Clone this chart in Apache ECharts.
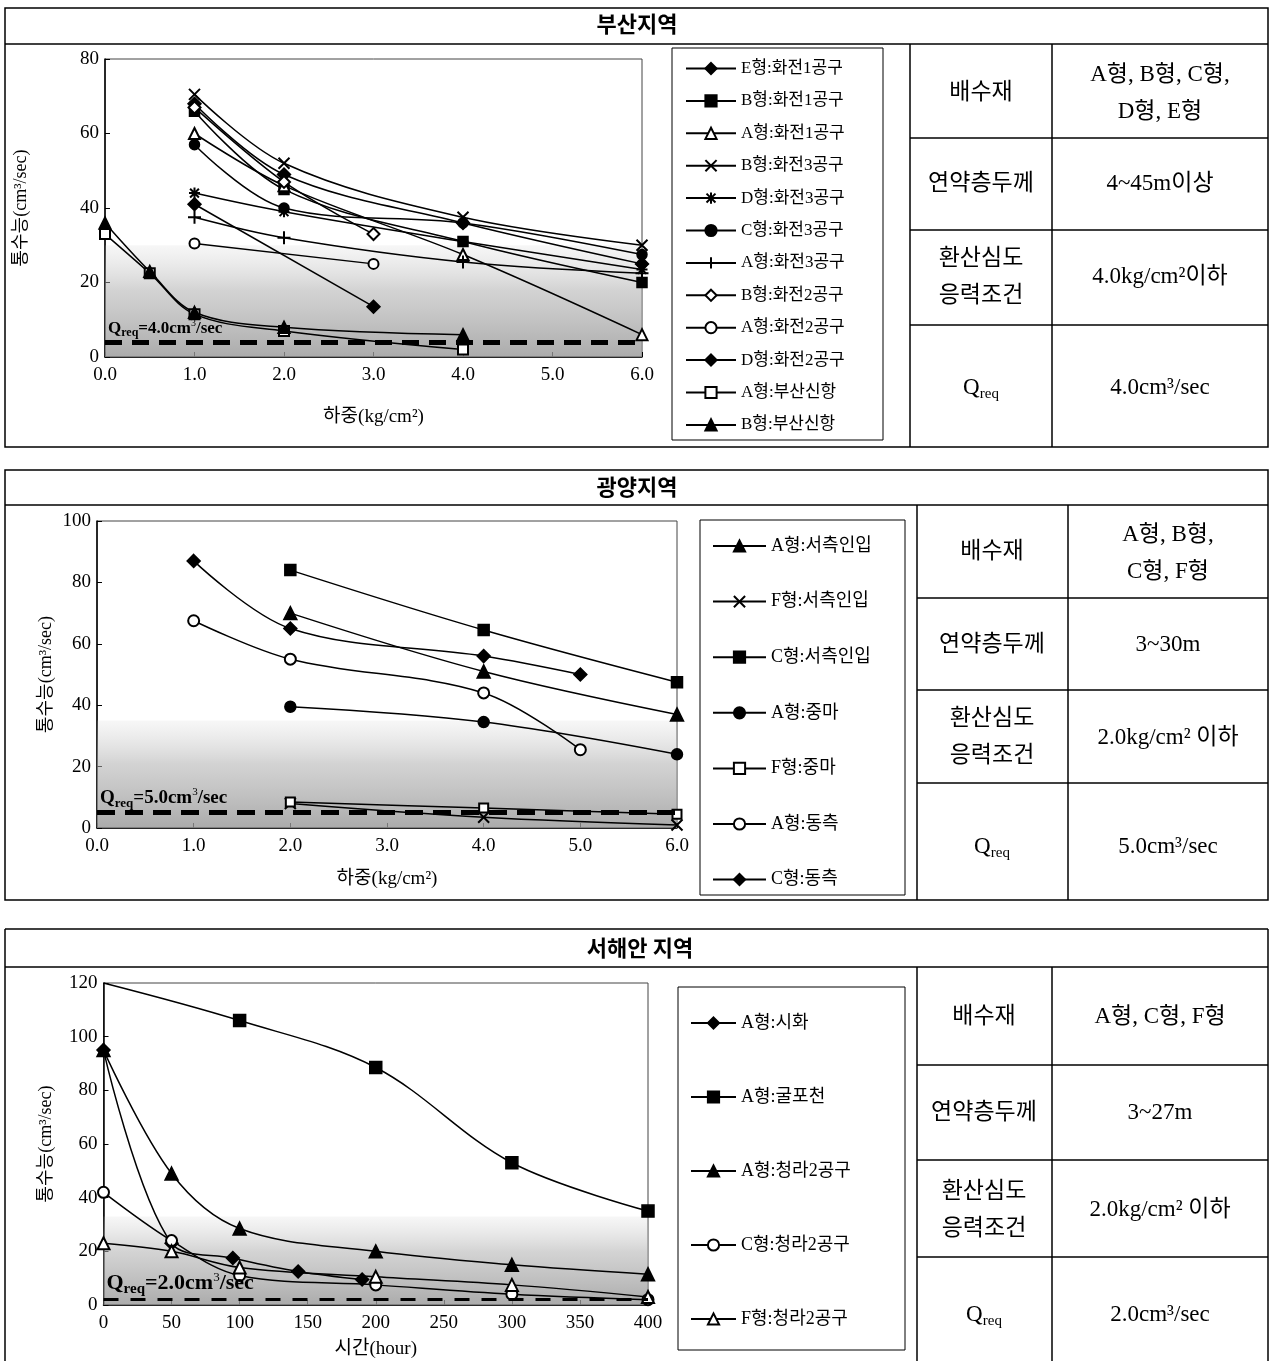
<!DOCTYPE html>
<html><head><meta charset="utf-8">
<script src="https://cdn.jsdelivr.net/npm/echarts@6/dist/echarts.min.js"></script>
<style>html,body{margin:0;padding:0;background:#fff}#c{width:1271px;height:1361px}</style>
</head><body><div id="c"></div><script>
// ===== 부산지역 (x: 하중 kg/cm², y: 통수능 cm³/sec) =====
const busanTicksX = [0, 1, 2, 3, 4, 5, 6];
const busan_E_hwa1 = [[1,68],[2,49],[4,36],[6,25]];
const busan_B_hwa1 = [[1,66],[2,45],[4,31],[6,20]];
const busan_A_hwa1 = [[1,60],[2,46],[4,27.5],[6,6]];
const busan_B_hwa3 = [[1,70.5],[2,52],[4,37.5],[6,30]];
const busan_D_hwa3 = [[1,44],[2,39],[4,31],[6,23.5]];
const busan_C_hwa3 = [[1,57],[2,40],[4,36],[6,27.5]];
const busan_A_hwa3 = [[1,37.5],[2,32],[4,25.5],[6,22.5]];
const busan_B_hwa2 = [[1,67],[2,47],[3,33]];
const busan_A_hwa2 = [[1,30.5],[3,25]];
const busan_D_hwa2 = [[1,41],[3,13.5]];
const busan_A_new  = [[0,33],[0.5,22.5],[1,11.5],[2,7],[4,2]];
const busan_B_new  = [[0,36],[0.5,23],[1,12],[2,8],[4,6]];
const busanQreq = 4.0;

// ===== 광양지역 =====
const gy_A_west = [[2,70],[4,51],[6,37]];
const gy_F_west = [[2,8],[4,3.5],[6,1]];
const gy_C_west = [[2,84],[4,64.5],[6,47.5]];
const gy_A_jm   = [[2,39.5],[4,34.5],[6,24]];
const gy_F_jm   = [[2,8.5],[4,6.5],[6,4.5]];
const gy_A_east = [[1,67.5],[2,55],[4,44],[5,25.5]];
const gy_C_east = [[1,87],[2,65],[4,56],[5,50]];
const gyQreq = 5.0;

// ===== 서해안 지역 (x: 시간 hour) =====
const wc_A_sihwa = [[0,95],[50,23],[95,17.5],[143,12.5],[190,9.5]];
const wc_A_gulpo = [[0,120],[100,106],[200,88.5],[300,53],[400,35]];
const wc_A_cr2   = [[0,95],[50,49],[100,28.5],[200,20],[300,15],[400,11.5]];
const wc_C_cr2   = [[0,42],[50,24],[100,11],[200,7.5],[300,4],[400,2]];
const wc_F_cr2   = [[0,23],[50,20],[100,14],[200,10.5],[300,7.5],[400,3]];
const wcQreq = 2.0;

const FONT = "'Liberation Serif','Noto Sans CJK KR',serif";
const SYM = {
  X: 'path://M0,0L10,10M10,0L0,10',
  PLUS: 'path://M5,0L5,10M0,5L10,5',
  AST: 'path://M1,1L9,9M9,1L1,9M5,0L5,10M0,5L10,5'
};

function S(name, data, symbol, size, gi, smooth) {
  return {
    type: 'line', name: name, data: data, xAxisIndex: gi, yAxisIndex: gi,
    symbol: symbol, symbolSize: size, smooth: smooth === undefined ? 0.35 : smooth,
    lineStyle: { color: '#000', width: 1.5 },
    itemStyle: { color: '#000', borderColor: '#000', borderWidth: symbol.indexOf('path') === 0 ? 2 : 1.5 },
    z: 3, animation: false
  };
}
function shade(gi, top) {
  return {
    type: 'line', data: [], xAxisIndex: gi, yAxisIndex: gi, z: 1, silent: true,
    markArea: {
      silent: true,
      itemStyle: { color: { type: 'linear', x: 0, y: 0, x2: 0, y2: 1, colorStops: [
        { offset: 0, color: 'rgba(200,200,200,0.15)' },
        { offset: 0.4, color: 'rgba(175,175,175,0.55)' },
        { offset: 1, color: 'rgba(150,150,150,0.8)' } ] } },
      data: [[{ yAxis: 0 }, { yAxis: top }]]
    }
  };
}
function qline(gi, val, fs, width, dash) {
  return {
    type: 'line', data: [], xAxisIndex: gi, yAxisIndex: gi, z: 2, silent: true,
    markLine: {
      silent: true, symbol: 'none', animation: false,
      lineStyle: { color: '#000', width: width, type: dash },
      label: {
        position: 'insideStartTop', distance: [3, 3],
        formatter: '{q|Q}{s|req}{q|=' + val.toFixed(1) + 'cm}{p|3}{q|/sec}',
        rich: {
          q: { fontSize: fs, fontFamily: FONT, color: '#000', fontWeight: 'bold', lineHeight: fs + 4 },
          s: { fontSize: Math.round(fs * 0.7), fontFamily: FONT, color: '#000', fontWeight: 'bold', verticalAlign: 'bottom', lineHeight: 10 },
          p: { fontSize: Math.round(fs * 0.6), fontFamily: FONT, color: '#000', verticalAlign: 'top', lineHeight: 9 }
        }
      },
      data: [{ yAxis: val }]
    }
  };
}
function xAx(gi, min, max, interval, fmt, name, gap) {
  return {
    type: 'value', gridIndex: gi, min: min, max: max, interval: interval,
    axisLine: { lineStyle: { color: '#000', width: 1.5 } },
    axisTick: { inside: true, length: 5, lineStyle: { color: '#000' } },
    splitLine: { show: false },
    axisLabel: { color: '#000', fontFamily: FONT, fontSize: 19, margin: 9, formatter: fmt },
    name: name, nameLocation: 'middle', nameGap: gap,
    nameTextStyle: { color: '#000', fontFamily: FONT, fontSize: 19 }
  };
}
function yAx(gi, max, interval, gap) {
  return {
    type: 'value', gridIndex: gi, min: 0, max: max, interval: interval,
    axisLine: { lineStyle: { color: '#000', width: 1.5 } },
    axisTick: { inside: true, length: 5, lineStyle: { color: '#000' } },
    splitLine: { show: false },
    axisLabel: { color: '#000', fontFamily: FONT, fontSize: 19, margin: 6 },
    name: '통수능(cm³/sec)', nameLocation: 'middle', nameGap: gap,
    nameTextStyle: { color: '#000', fontFamily: FONT, fontSize: 18 }
  };
}

const series = [
  shade(0, 30), qline(0, busanQreq, 17, 5, [17, 10]),
  S('E형:화전1공구', busan_E_hwa1, 'diamond', 13, 0),
  S('B형:화전1공구', busan_B_hwa1, 'rect', 10, 0),
  S('A형:화전1공구', busan_A_hwa1, 'emptyTriangle', 11, 0),
  S('B형:화전3공구', busan_B_hwa3, SYM.X, 11, 0),
  S('D형:화전3공구', busan_D_hwa3, SYM.AST, 11, 0),
  S('C형:화전3공구', busan_C_hwa3, 'circle', 10, 0),
  S('A형:화전3공구', busan_A_hwa3, SYM.PLUS, 13, 0),
  S('B형:화전2공구', busan_B_hwa2, 'emptyDiamond', 12, 0),
  S('A형:화전2공구', busan_A_hwa2, 'emptyCircle', 10, 0),
  S('D형:화전2공구', busan_D_hwa2, 'diamond', 13, 0),
  S('A형:부산신항', busan_A_new, 'emptyRect', 10, 0),
  S('B형:부산신항', busan_B_new, 'triangle', 12, 0),

  shade(1, 35), qline(1, gyQreq, 19, 5, [18, 10]),
  S('A형:서측인입', gy_A_west, 'triangle', 13, 1),
  S('F형:서측인입', gy_F_west, SYM.X, 11, 1),
  S('C형:서측인입', gy_C_west, 'rect', 11, 1),
  S('A형:중마', gy_A_jm, 'circle', 11, 1),
  S('F형:중마', gy_F_jm, 'emptyRect', 9, 1),
  S('A형:동측', gy_A_east, 'emptyCircle', 11, 1),
  S('C형:동측', gy_C_east, 'diamond', 13, 1),

  shade(2, 33), qline(2, wcQreq, 22, 3, [15, 12]),
  S('A형:시화', wc_A_sihwa, 'diamond', 13, 2),
  S('A형:굴포천', wc_A_gulpo.map((p, i) => i === 0 ? { value: p, symbol: 'none' } : p), 'rect', 12, 2),
  S('A형:청라2공구', wc_A_cr2, 'triangle', 13, 2),
  S('C형:청라2공구', wc_C_cr2, 'emptyCircle', 11, 2),
  S('F형:청라2공구', wc_F_cr2, 'emptyTriangle', 12, 2)
];

function legend(names, left, top, iw, gap, fs) {
  return {
    orient: 'vertical', left: left, top: top, padding: 0, itemWidth: iw, itemHeight: 14,
    itemGap: gap, selectedMode: false, data: names,
    textStyle: { color: '#000', fontFamily: FONT, fontSize: fs }
  };
}

// ----- frames / tables -----
const G = [];
function L(x1, y1, x2, y2, w) { G.push({ type: 'line', silent: true, shape: { x1, y1, x2, y2 }, style: { stroke: '#000', lineWidth: w || 1.5 } }); }
function R(x, y, w, h, lw) { G.push({ type: 'rect', silent: true, shape: { x, y, width: w, height: h }, style: { fill: 'none', stroke: '#000', lineWidth: lw || 1.5 } }); }
const RICH = {
  s: { fontSize: 15, fontFamily: FONT, verticalAlign: 'bottom', lineHeight: 15 }
};
function T(x, y, text, fs, bold) {
  G.push({ type: 'text', silent: true, x: x, y: y, style: {
    text: text, fontSize: fs || 23, fontFamily: FONT, fontWeight: bold ? 'bold' : 'normal', fill: '#000',
    align: 'center', verticalAlign: 'middle', textAlign: 'center', textVerticalAlign: 'middle',
    lineHeight: text.indexOf('\n') >= 0 ? 37 : 28, rich: RICH } });
}

// panel 1
R(5, 8, 1263, 439); L(5, 44, 1268, 44); T(637, 26, '부산지역', 22, true);
L(910, 44, 910, 447); L(1052, 44, 1052, 447);
L(910, 138, 1268, 138); L(910, 230, 1268, 230); L(910, 325, 1268, 325);
R(672, 48, 211, 392, 1);
T(981, 93, '배수재'); T(1160, 93, 'A형, B형, C형,\nD형, E형');
T(981, 184, '연약층두께'); T(1160, 184, '4~45m이상');
T(981, 277, '환산심도\n응력조건'); T(1160, 277, '4.0kg/cm²이하');
T(981, 388, 'Q{s|req}'); T(1160, 388, '4.0cm³/sec');

// panel 2
R(5, 470, 1263, 430); L(5, 505, 1268, 505); T(637, 489, '광양지역', 22, true);
L(917, 505, 917, 900); L(1068, 505, 1068, 900);
L(917, 598, 1268, 598); L(917, 690, 1268, 690); L(917, 783, 1268, 783);
R(700, 520, 205, 375, 1);
T(992, 552, '배수재'); T(1168, 553, 'A형, B형,\nC형, F형');
T(992, 645, '연약층두께'); T(1168, 645, '3~30m');
T(992, 737, '환산심도\n응력조건'); T(1168, 738, '2.0kg/cm² 이하');
T(992, 847, 'Q{s|req}'); T(1168, 847, '5.0cm³/sec');

// panel 3
L(5, 929, 1268, 929); L(5, 929, 5, 1361); L(1268, 929, 1268, 1361);
L(5, 967, 1268, 967); T(640, 950, '서해안 지역', 22, true);
L(917, 967, 917, 1361); L(1052, 967, 1052, 1361);
L(917, 1065, 1268, 1065); L(917, 1160, 1268, 1160); L(917, 1257, 1268, 1257);
R(678, 987, 227, 363, 1);
T(984, 1017, '배수재'); T(1160, 1017, 'A형, C형, F형');
T(984, 1113, '연약층두께'); T(1160, 1113, '3~27m');
T(984, 1210, '환산심도\n응력조건'); T(1160, 1210, '2.0kg/cm² 이하');
T(984, 1315, 'Q{s|req}'); T(1160, 1315, '2.0cm³/sec');

const option = {
  backgroundColor: '#fff',
  animation: false,
  grid: [
    { left: 105, top: 59, width: 537, height: 298, show: true, borderColor: '#444', borderWidth: 1 },
    { left: 97, top: 521, width: 580, height: 307, show: true, borderColor: '#444', borderWidth: 1 },
    { left: 103.5, top: 983, width: 544.5, height: 322, show: true, borderColor: '#444', borderWidth: 1 }
  ],
  xAxis: [
    xAx(0, busanTicksX[0], busanTicksX[busanTicksX.length - 1], 1, v => v.toFixed(1), '하중(kg/cm²)', 51),
    xAx(1, 0, 6, 1, v => v.toFixed(1), '하중(kg/cm²)', 42),
    xAx(2, 0, 400, 50, v => String(v), '시간(hour)', 35)
  ],
  yAxis: [yAx(0, 80, 20, 75), yAx(1, 100, 20, 42), yAx(2, 120, 20, 48)],
  legend: [
    legend(['E형:화전1공구','B형:화전1공구','A형:화전1공구','B형:화전3공구','D형:화전3공구','C형:화전3공구','A형:화전3공구','B형:화전2공구','A형:화전2공구','D형:화전2공구','A형:부산신항','B형:부산신항'], 685, 60, 50, 15.4, 17),
    legend(['A형:서측인입','F형:서측인입','C형:서측인입','A형:중마','F형:중마','A형:동측','C형:동측'], 712, 537, 53, 37.6, 18),
    legend(['A형:시화','A형:굴포천','A형:청라2공구','C형:청라2공구','F형:청라2공구'], 690, 1014, 45, 56, 18)
  ],
  graphic: { elements: G },
  series: series
};
const chart = echarts.init(document.getElementById('c'), null, { renderer: 'canvas' });
chart.setOption(option);
</script></body></html>
